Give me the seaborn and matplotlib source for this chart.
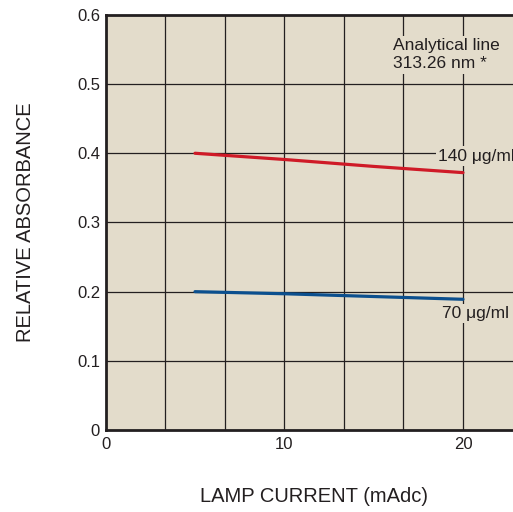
import pandas as pd
import numpy as np
import matplotlib.pyplot as plt
import seaborn as sns

# lamp current (mAdc) and relative absorbance for each concentration
current = [5, 10, 15, 20]
abs_140 = [0.400, 0.391, 0.381, 0.372]
abs_70 = [0.200, 0.197, 0.193, 0.189]

x_ticks = [0, 10, 20]
y_ticks = [0, 0.1, 0.2, 0.3, 0.4, 0.5, 0.6]
y_tick_labels = ["0", "0.1", "0.2", "0.3", "0.4", "0.5", "0.6"]

BG = "#e3dccb"
INK = "#231f20"


def build_frame():
    df = pd.DataFrame({
        "current": current * 2,
        "absorbance": abs_140 + abs_70,
        "conc": ["140"] * len(current) + ["70"] * len(current),
    })
    return df


def main():
    sns.set_style("white")
    plt.rcParams["font.family"] = ["Liberation Sans", "DejaVu Sans"]

    df = build_frame()

    fig = plt.figure(figsize=(5.13, 5.12), dpi=100)
    ax = fig.add_axes([0.206, 0.160, 0.794, 0.811])
    ax.set_facecolor(BG)

    sns.lineplot(
        data=df, x="current", y="absorbance", hue="conc",
        palette={"140": "#cf1a27", "70": "#0b4f8e"},
        linewidth=2.3, legend=False, ax=ax, zorder=3,
    )

    ax.set_xlim(0, 22.8)
    ax.set_ylim(0, 0.6)

    # grid every 10/3 mA horizontally, 0.1 vertically
    for gx in np.arange(1, 7) * 10 / 3:
        ax.axvline(gx, color=INK, lw=0.9, zorder=1)
    for gy in y_ticks[1:-1]:
        ax.axhline(gy, color=INK, lw=0.9, zorder=1)

    ax.set_xticks(x_ticks)
    ax.set_yticks(y_ticks)
    ax.set_yticklabels(y_tick_labels)
    ax.tick_params(axis="both", length=0, labelsize=12, colors=INK)
    ax.tick_params(axis="x", pad=5)
    ax.tick_params(axis="y", pad=4)

    for side in ["left", "bottom", "top"]:
        ax.spines[side].set_linewidth(2)
        ax.spines[side].set_color(INK)
    ax.spines["right"].set_visible(False)

    ax.set_xlabel("LAMP CURRENT (mAdc)", fontsize=14.5, color=INK)
    ax.xaxis.label.set_va("center")
    ax.xaxis.set_label_coords(0.511, -0.159)
    ax.set_ylabel("RELATIVE ABSORBANCE", fontsize=14.5, color=INK)
    ax.yaxis.label.set_va("center")
    ax.yaxis.set_label_coords(-0.198, 0.501)

    box = dict(facecolor=BG, edgecolor="none", pad=1.5)
    ax.text(16.1, 0.542, "Analytical line\n313.26 nm *", fontsize=12.5,
            ha="left", va="center", linespacing=1.25, color=INK, bbox=box, zorder=4)
    ax.text(18.62, 0.396, "140 μg/ml", fontsize=12.5, ha="left", va="center",
            color=INK, bbox=box, zorder=4)
    ax.text(18.81, 0.1687, "70 μg/ml", fontsize=12.5, ha="left", va="center",
            color=INK, bbox=box, zorder=4)

    fig.savefig("out.png", dpi=100, facecolor="white")
    plt.close(fig)


if __name__ == "__main__":
    main()
